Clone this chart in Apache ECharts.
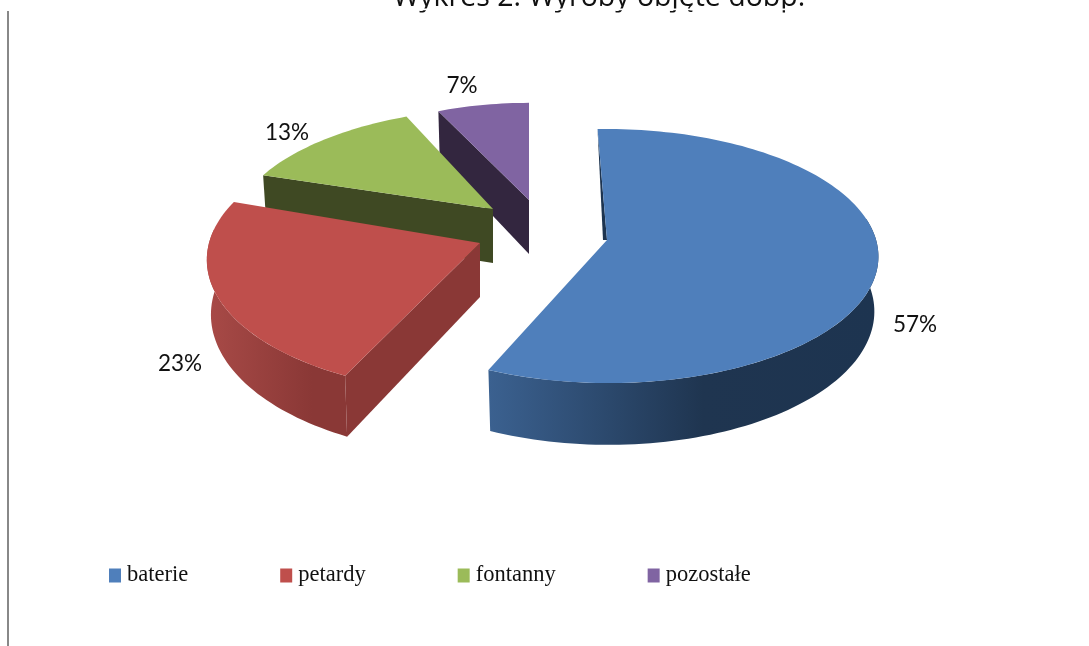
<!DOCTYPE html>
<html>
<head>
<meta charset="utf-8">
<style>html,body{margin:0;padding:0;background:#fff}#c{width:1089px;height:646px}</style>
<script src="https://cdn.jsdelivr.net/npm/echarts@6/dist/echarts.min.js"></script>
</head>
<body>
<div id="c"></div>
<script>
const titleText = 'Wykres 2. Wyroby objęte dobp.';
const categories = ['baterie', 'petardy', 'fontanny', 'pozostałe'];
const percents = [57, 23, 13, 7];

const colors = ['#4f7fbb', '#bf4f4c', '#9bbb59', '#8064a2'];
const faceColors = ['#1d3450', '#8a3836', '#3f4923', '#33263f'];
const wallStops = [
  [[0, '#3b6190'], [0.55, '#1f3550'], [1, '#1d3450']],
  [[0, '#a84a47'], [0.75, '#8a3836'], [1, '#8a3836']]
];
// projection of each exploded slice: apex, scales, rotation (deg), shear
const layout = [
  { ax: 607, ay: 240, sx: 0.993, sy: 1, rot: -2, sh: 0.01, wall: [80, 999], label: [915, 325] },
  { ax: 480, ay: 243, sx: 1, sy: 1.05, rot: 1, sh: 0, wall: [0, 276], label: [180, 364] },
  { ax: 493, ay: 209, sx: 0.943, sy: 0.91, rot: 0, sh: -0.12, label: [287, 133] },
  { ax: 529, ay: 200, sx: 0.875, sy: 0.875, rot: 0, sh: 0, label: [462, 86] }
];
const R = 271, RY = 125, K = 0.126, DEPTH = 54, BOTTOM_X = 0.985;
const total = percents.reduce((a, b) => a + b, 0);
const startOf = i => percents.slice(0, i).reduce((a, b) => a + b, 0) / total * 360;

function pt(L, deg, under) {
  const t = deg * Math.PI / 180, u = Math.sin(t), v = Math.cos(t), w = 1 + K * v;
  const dy = -RY * L.sy * v / w;
  const dx = R * L.sx * u / w + L.sh * dy;
  return under
    ? [L.ax + dx * BOTTOM_X, L.ay + dy + DEPTH / w]
    : [L.ax + dx, L.ay + dy];
}

function arc(L, a, b, under) {
  const n = Math.max(2, Math.ceil(Math.abs(b - a) / 1.5)), out = [];
  for (let i = 0; i <= n; i++) out.push(pt(L, a + (b - a) * i / n, under));
  return out;
}

function renderSlice(i) {
  return function (params, api) {
    const value = api.value(0), L = layout[i];
    const a = startOf(i) + L.rot, b = a + value / total * 360;
    const kids = [];
    if (L.wall) {
      const w0 = Math.max(a, L.wall[0]), w1 = Math.min(b, L.wall[1]);
      const top = arc(L, w0, w1, false), bot = arc(L, w0, w1, true).reverse();
      const pts = top.concat(bot), xs = pts.map(p => p[0]);
      const stops = wallStops[i].map(s => ({ offset: s[0], color: s[1] }));
      kids.push({
        type: 'polygon', shape: { points: pts },
        style: { fill: { type: 'linear', global: true, x: Math.min(...xs), y: 0, x2: Math.max(...xs), y2: 0, colorStops: stops } }
      });
    }
    const apex = [L.ax, L.ay], P = pt(L, a, false);
    if (i === 0) {
      kids.push({ type: 'polygon', shape: { points: [P, apex, [L.ax - 4, L.ay]] }, style: { fill: faceColors[i] } });
    } else {
      kids.push({ type: 'polygon', shape: { points: [P, apex, [L.ax, L.ay + DEPTH], pt(L, a, true)] }, style: { fill: faceColors[i] } });
    }
    kids.push({ type: 'polygon', shape: { points: [apex].concat(arc(L, a, b, false)) }, style: { fill: colors[i] } });
    kids.push({
      type: 'text',
      style: {
        x: L.label[0], y: L.label[1], text: value + '%', align: 'center', verticalAlign: 'middle',
        fontFamily: 'Lato', fontSize: 22.5, fill: '#111'
      }
    });
    return { type: 'group', children: kids };
  };
}

// back slices are drawn first
const drawOrder = [3, 2, 1, 0];
const chart = echarts.init(document.getElementById('c'), null, { renderer: 'canvas' });
chart.setOption({
  animation: false,
  backgroundColor: '#fff',
  title: {
    text: titleText, left: 393, top: -17, padding: 0,
    textStyle: { fontFamily: 'Open Sans', fontSize: 28.5, fontWeight: 'normal', color: '#111' }
  },
  legend: {
    data: categories, left: 109, top: 564, icon: 'rect', itemWidth: 12, itemHeight: 14, itemGap: 92,
    selectedMode: false, padding: 0,
    textStyle: { fontFamily: 'Liberation Serif', fontSize: 22.5, color: '#111', padding: [6, 0, 0, 1] }
  },
  graphic: [
    { type: 'rect', z: 100, shape: { x: 0, y: 8.6, width: 1089, height: 1.6 }, style: { fill: '#fff' } },
    { type: 'rect', z: 100, shape: { x: 0, y: 12.4, width: 1089, height: 8 }, style: { fill: '#fff' } },
    { type: 'rect', z: 101, shape: { x: 7, y: 11, width: 2, height: 635 }, style: { fill: '#888' } }
  ],
  series: drawOrder.map(i => ({
    type: 'custom',
    name: categories[i],
    coordinateSystem: 'none',
    itemStyle: { color: colors[i] },
    data: [[percents[i]]],
    renderItem: renderSlice(i),
    silent: true
  }))
});
</script>
</body>
</html>
